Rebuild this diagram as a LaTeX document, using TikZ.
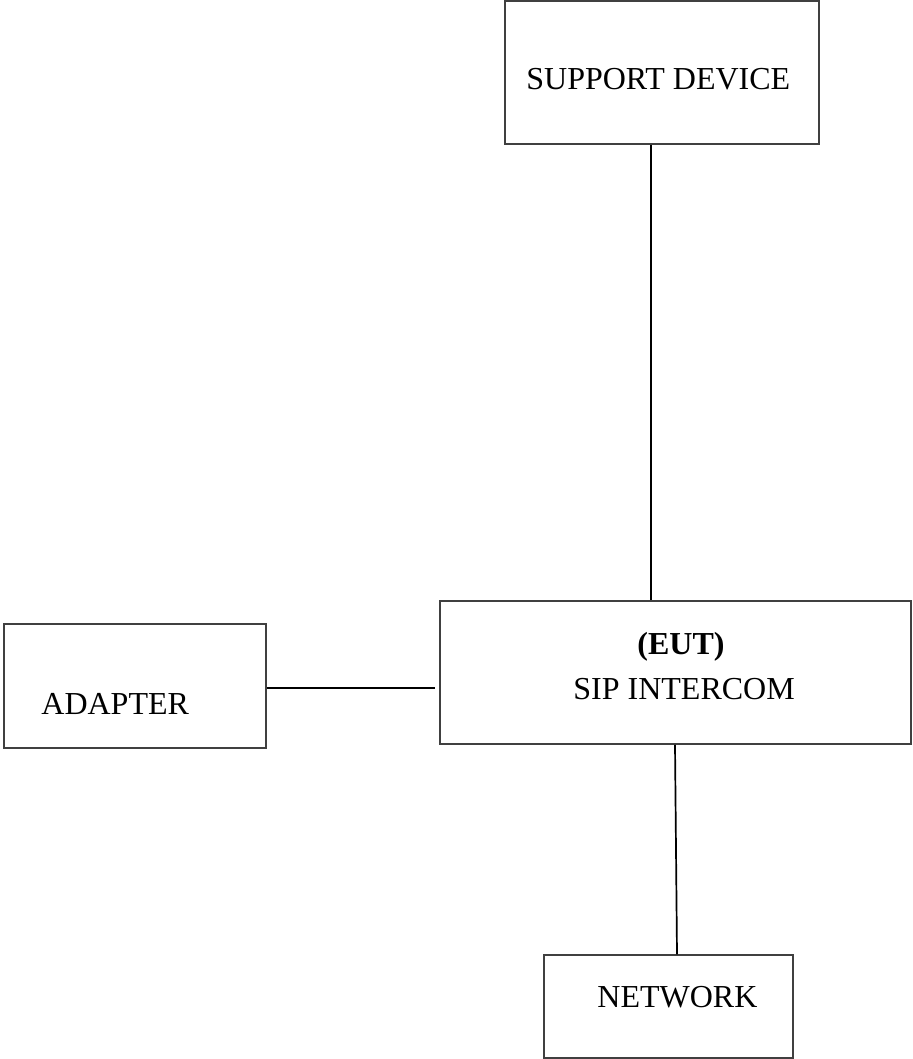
\documentclass[tikz,border=0pt]{standalone}
\usepackage{fontspec}
\setmainfont{Liberation Serif}
\usetikzlibrary{positioning,calc}

\begin{document}
\begin{tikzpicture}[x=0.5pt,y=-0.5pt,font=\fontsize{16}{19}\selectfont,
   box/.style={draw=black!75,line width=0.75pt,inner sep=0pt},
   lbl/.style={inner sep=0pt,anchor=base west},
   wire/.style={line width=0.85pt}]
  \useasboundingbox (0,0) rectangle (912,1059);
  % boxes
  \node[box,minimum width=157pt,minimum height=71.5pt] (sup) at (662,72.5) {};
  \node[box,minimum width=235.5pt,minimum height=71.5pt] (sip) at (675.5,672.5) {};
  \node[box,minimum width=131pt,minimum height=62pt] (adp) at (135,686) {};
  \node[box,minimum width=124.5pt,minimum height=51.5pt] (net) at (668.5,1006.5) {};
  % texts
  \node[lbl] (suptxt) at (526,90) {SUPPORT DEVICE};
  \node[lbl] (eut) at (637,654) {\textbf{(EUT)}};
  \node[lbl] (siptxt) at (573,699) {SIP INTERCOM};
  \node[lbl] (adptxt) at (41,714) {ADAPTER};
  \node[lbl] (nettxt) at (597,1007) {NETWORK};
  % links
  \coordinate (supend) at ([xshift=-5.5pt]sup.south |- sip.north);
  \coordinate (adpend) at ([xshift=-2pt,yshift=-1pt]adp.east -| sip.west);
  \draw[wire] ([xshift=-5.5pt]sup.south) -- (supend);
  \draw[wire] ([yshift=-1pt]adp.east) -- (adpend);
  \draw[wire] ([xshift=-0.25pt]sip.south) -- ([xshift=4.25pt]net.north);
\end{tikzpicture}
\end{document}
